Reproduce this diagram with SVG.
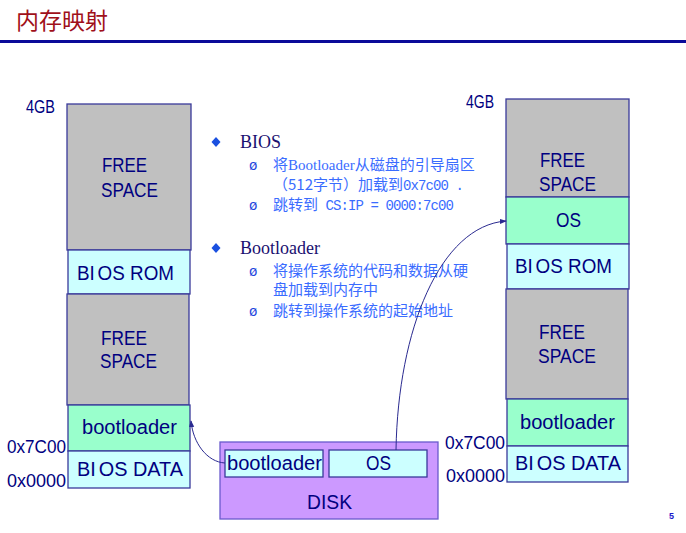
<svg xmlns="http://www.w3.org/2000/svg" width="686" height="533" viewBox="0 0 686 533">
<defs>
<style>
.gray{fill:#c0c0c0;stroke:#3a3a9a;stroke-width:1.3}
.cyan{fill:#ccffff;stroke:#3a3a9a;stroke-width:1.3}
.green{fill:#99ffcc;stroke:#3a3a9a;stroke-width:1.3}
.purple{fill:#cc99ff;stroke:#6a5acd;stroke-width:1.3}
.bt{font-family:"Liberation Sans",Arial,sans-serif;font-size:20px;fill:#000080}
.lbl{font-family:"Liberation Sans",Arial,sans-serif;font-size:18px;fill:#000080}
.head{font-family:"Liberation Serif","Times New Roman",serif;font-size:18px;fill:#1a1070}
.sub{font-family:"Noto Sans CJK SC",sans-serif;font-size:15px;fill:#3a6cff}
.mono{font-family:"Liberation Mono","Courier New",monospace;font-size:14px;letter-spacing:-0.9px}
.ser{font-family:"Liberation Serif","Times New Roman",serif}
.bul{font-family:"Liberation Mono",monospace;font-size:14px;fill:#1a44dd}
.conn{fill:none;stroke:#2a2a90;stroke-width:1}
</style>
<marker id="ah" viewBox="0 0 8 8" refX="7" refY="4" markerWidth="7" markerHeight="7" orient="auto" markerUnits="userSpaceOnUse">
<path d="M0,1 L8,4 L0,7 z" fill="#2a2a90"/>
</marker>
</defs>
<rect width="686" height="533" fill="#ffffff"/>
<g id="title">
<text x="16" y="29" font-family="Noto Sans CJK SC,sans-serif" font-size="23" fill="#a0101a">内存映射</text>
<rect x="0" y="40" width="686" height="3" fill="#0a0a99"/>
</g>
<g id="left-memory">
<text class="lbl" x="26" y="113" font-size="15" textLength="29" lengthAdjust="spacingAndGlyphs">4GB</text>
<g id="l-free1"><rect class="gray" x="67" y="104" width="124" height="146"/>
<text class="bt" x="102" y="172" textLength="45" lengthAdjust="spacingAndGlyphs">FREE</text><text class="bt" x="101" y="197" textLength="57" lengthAdjust="spacingAndGlyphs">SPACE</text></g>
<g id="l-biosrom"><rect class="cyan" x="68" y="250" width="122" height="44"/>
<text class="bt" x="77" y="280" textLength="97" lengthAdjust="spacingAndGlyphs">BI<tspan dx="3">OS ROM</tspan></text></g>
<g id="l-free2"><rect class="gray" x="67" y="294" width="122" height="111"/>
<text class="bt" x="101" y="345" textLength="46" lengthAdjust="spacingAndGlyphs">FREE</text><text class="bt" x="100" y="368" textLength="57" lengthAdjust="spacingAndGlyphs">SPACE</text></g>
<g id="l-boot"><rect class="green" x="68" y="405" width="122" height="46"/>
<text class="bt" x="82" y="434" textLength="95" lengthAdjust="spacingAndGlyphs">bootloader</text></g>
<g id="l-biosdata"><rect class="cyan" x="68" y="451" width="122" height="37"/>
<text class="bt" x="77" y="476" textLength="106" lengthAdjust="spacingAndGlyphs">BI<tspan dx="3">OS DATA</tspan></text></g>
<text class="lbl" x="7" y="453" textLength="59" lengthAdjust="spacingAndGlyphs">0x7C00</text>
<text class="lbl" x="7" y="487" textLength="59" lengthAdjust="spacingAndGlyphs">0x0000</text>
</g>
<g id="text-block">
<path d="M216,137 L220.5,142 L216,147 L211.5,142 z" fill="#1a50e0"/>
<text class="head" x="240" y="148">BIOS</text>
<text class="bul" x="249" y="170">ø</text>
<text class="sub" x="273" y="170">将<tspan class="ser">Bootloader</tspan>从磁盘的引导扇区</text>
<text class="sub" x="273" y="190">（512字节）加载到<tspan class="mono">0x7c00 .</tspan></text>
<text class="bul" x="249" y="210">ø</text>
<text class="sub" x="273" y="210">跳转到<tspan class="mono"> CS:IP = 0000:7c00</tspan></text>
<path d="M216,243 L220.5,248 L216,253 L211.5,248 z" fill="#1a50e0"/>
<text class="head" x="240" y="254">Bootloader</text>
<text class="bul" x="249" y="276">ø</text>
<text class="sub" x="273" y="276">将操作系统的代码和数据从硬</text>
<text class="sub" x="273" y="295">盘加载到内存中</text>
<text class="bul" x="249" y="316">ø</text>
<text class="sub" x="273" y="316">跳转到操作系统的起始地址</text>
</g>
<g id="disk">
<rect class="purple" x="220" y="442" width="218" height="77"/>
<text class="bt" x="307" y="509" textLength="45" lengthAdjust="spacingAndGlyphs">DISK</text>
<g id="disk-boot"><rect class="cyan" x="225" y="450" width="98" height="27"/>
<text class="bt" x="227" y="470" textLength="95" lengthAdjust="spacingAndGlyphs">bootloader</text></g>
<g id="disk-os"><rect class="cyan" x="329" y="450" width="98" height="27"/>
<text class="bt" x="366" y="470" textLength="25" lengthAdjust="spacingAndGlyphs">OS</text></g>
</g>
<g id="right-memory">
<text class="lbl" x="466" y="108" font-size="15" textLength="28" lengthAdjust="spacingAndGlyphs">4GB</text>
<g id="r-free1"><rect class="gray" x="506" y="99" width="123" height="98"/>
<text class="bt" x="540" y="167" textLength="45" lengthAdjust="spacingAndGlyphs">FREE</text><text class="bt" x="539" y="191" textLength="57" lengthAdjust="spacingAndGlyphs">SPACE</text></g>
<g id="r-os"><rect class="green" x="506" y="197" width="123" height="47"/>
<text class="bt" x="556" y="227" textLength="25" lengthAdjust="spacingAndGlyphs">OS</text></g>
<g id="r-biosrom"><rect class="cyan" x="507" y="244" width="122" height="45"/>
<text class="bt" x="515" y="273" textLength="97" lengthAdjust="spacingAndGlyphs">BI<tspan dx="3">OS ROM</tspan></text></g>
<g id="r-free2"><rect class="gray" x="506" y="289" width="122" height="110"/>
<text class="bt" x="539" y="339" textLength="46" lengthAdjust="spacingAndGlyphs">FREE</text><text class="bt" x="538" y="363" textLength="58" lengthAdjust="spacingAndGlyphs">SPACE</text></g>
<g id="r-boot"><rect class="green" x="507" y="399" width="121" height="47"/>
<text class="bt" x="520" y="429" textLength="95" lengthAdjust="spacingAndGlyphs">bootloader</text></g>
<g id="r-biosdata"><rect class="cyan" x="507" y="446" width="121" height="36"/>
<text class="bt" x="515" y="470" textLength="106" lengthAdjust="spacingAndGlyphs">BI<tspan dx="3">OS DATA</tspan></text></g>
<text class="lbl" x="445" y="449" textLength="60" lengthAdjust="spacingAndGlyphs">0x7C00</text>
<text class="lbl" x="446" y="482" textLength="59" lengthAdjust="spacingAndGlyphs">0x0000</text>
</g>
<g id="connectors">
<path class="conn" d="M225,463 C207,462 193,443 191,421" marker-end="url(#ah)"/>
<path class="conn" d="M396,450 C398,330 440,226 506,221" marker-end="url(#ah)"/>
</g>
<text x="669" y="519" font-family="Liberation Sans,Arial,sans-serif" font-size="9" font-weight="bold" fill="#1a1acc">5</text>
</svg>
